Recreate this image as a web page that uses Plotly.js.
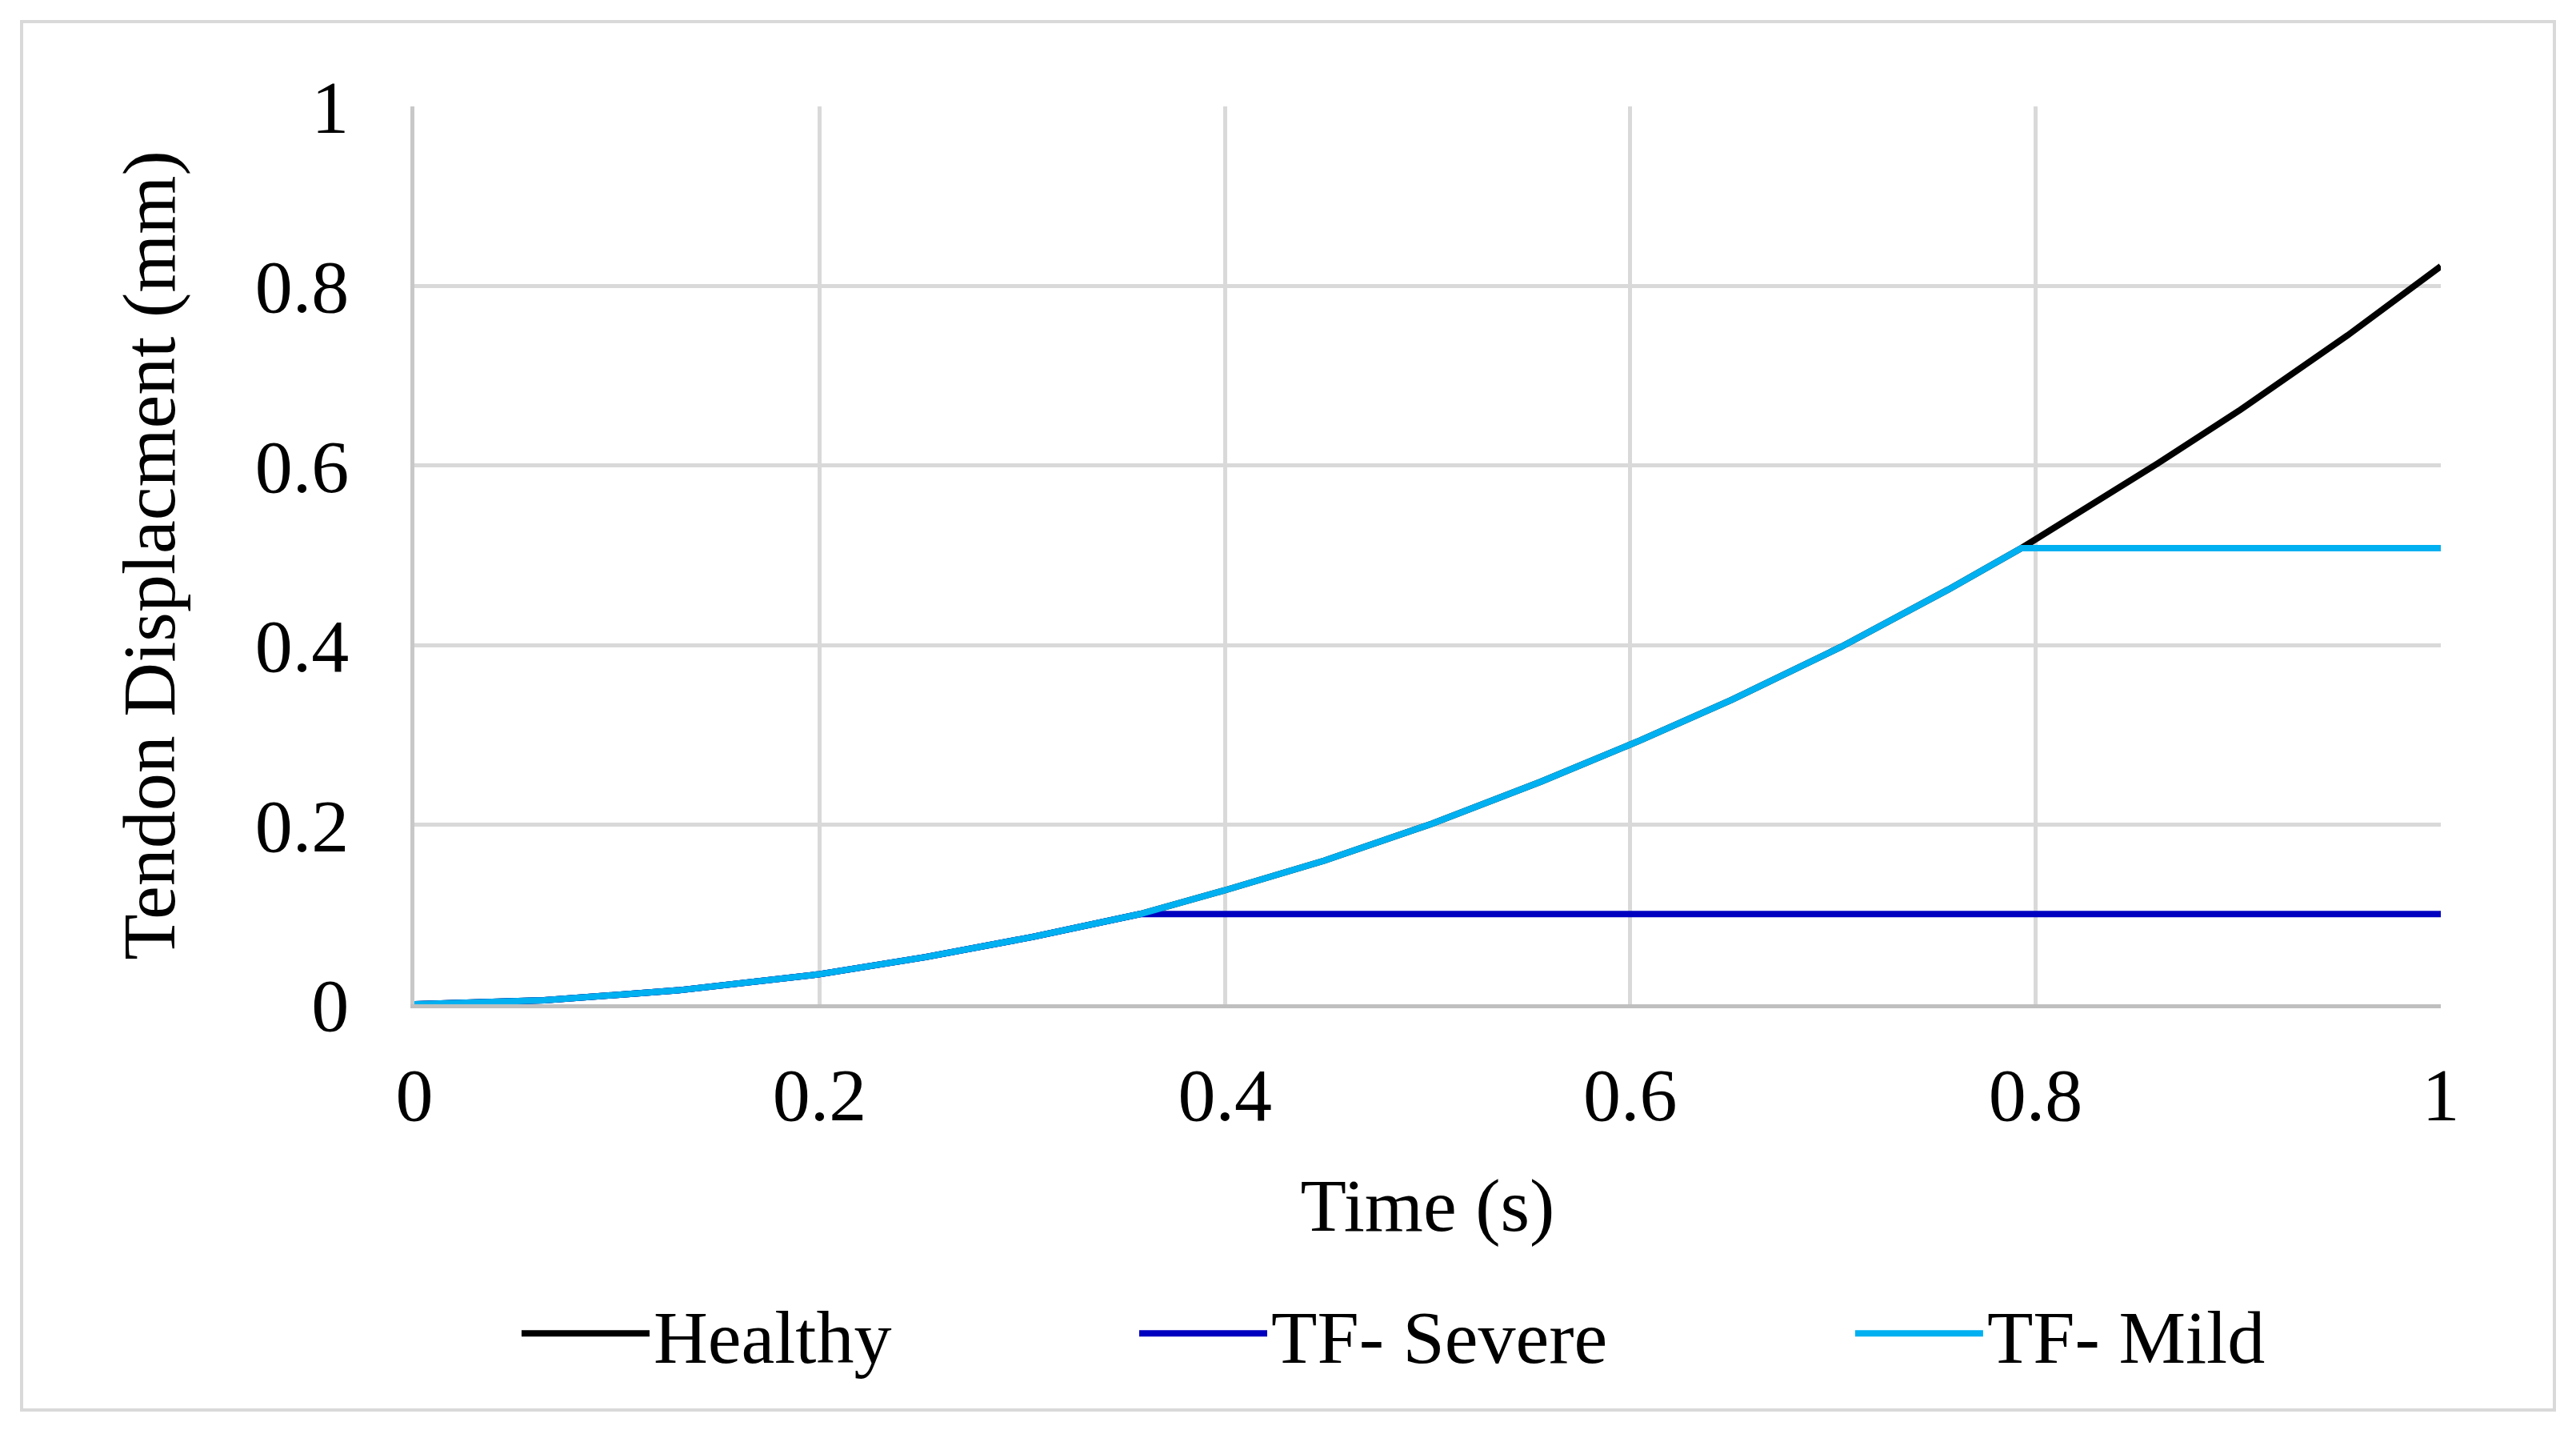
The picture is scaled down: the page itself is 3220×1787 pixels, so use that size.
<!DOCTYPE html>
<html>
<head>
<meta charset="utf-8">
<script src="https://cdn.plot.ly/plotly-3.0.1.min.js"></script>
<style>
  html, body { margin: 0; padding: 0; background: #ffffff; }
  #chart { width: 3220px; height: 1787px; }
</style>
</head>
<body>
<div id="chart"></div>
<script>
// Values
var timeHealthy = [0, 0.064, 0.13, 0.2, 0.252, 0.305, 0.358, 0.4, 0.449, 0.502, 0.556, 0.605, 0.65, 0.704, 0.757, 0.793, 0.86, 0.901, 0.954, 1.0];
var dispHealthy = [0, 0.0045, 0.0155, 0.0335, 0.0525, 0.075, 0.1005, 0.127, 0.16, 0.201, 0.248, 0.294, 0.339, 0.398, 0.462, 0.508, 0.602, 0.662, 0.745, 0.822];

var timeSevere = [0, 0.064, 0.13, 0.2, 0.252, 0.305, 0.358, 1.0];
var dispSevere = [0, 0.0045, 0.0155, 0.0335, 0.0525, 0.075, 0.1005, 0.1005];

var timeMild = [0, 0.064, 0.13, 0.2, 0.252, 0.305, 0.358, 0.4, 0.449, 0.502, 0.556, 0.605, 0.65, 0.704, 0.757, 0.793, 1.0];
var dispMild = [0, 0.0045, 0.0155, 0.0335, 0.0525, 0.075, 0.1005, 0.127, 0.16, 0.201, 0.248, 0.294, 0.339, 0.398, 0.462, 0.508, 0.508];

var seriesNames = ['Healthy', 'TF- Severe', 'TF- Mild'];
var xTickVals = [0, 0.2, 0.4, 0.6, 0.8, 1];
var yTickVals = [0, 0.2, 0.4, 0.6, 0.8, 1];

var FONT = 'Liberation Serif, Times New Roman, serif';
var FS = 94;

var traces = [
  { x: timeHealthy, y: dispHealthy, name: seriesNames[0], type: 'scatter', mode: 'lines',
    line: { color: '#000000', width: 8 }, legend: 'legend' },
  { x: timeSevere, y: dispSevere, name: seriesNames[1], type: 'scatter', mode: 'lines',
    line: { color: '#0000C0', width: 8 }, legend: 'legend2' },
  { x: timeMild, y: dispMild, name: seriesNames[2], type: 'scatter', mode: 'lines',
    line: { color: '#00B0F0', width: 8 }, legend: 'legend3' }
];

var legendCommon = {
  orientation: 'h', yanchor: 'middle', xanchor: 'left', y: -0.367,
  font: { family: FONT, size: FS, color: '#000000' },
  bgcolor: 'rgba(0,0,0,0)', borderwidth: 0, itemwidth: 160
};
function leg(xf) { var o = JSON.parse(JSON.stringify(legendCommon)); o.x = xf; return o; }

var layout = {
  width: 3220, height: 1787,
  margin: { l: 518, r: 169, t: 133, b: 532, pad: 0 },
  paper_bgcolor: '#ffffff', plot_bgcolor: '#ffffff',
  font: { family: FONT, size: FS, color: '#000000' },
  showlegend: true,
  legend: leg(0.0509),
  legend2: leg(0.3557),
  legend3: leg(0.7090),
  xaxis: {
    range: [0, 1], tickvals: xTickVals, ticks: '', showgrid: true,
    gridcolor: '#d9d9d9', gridwidth: 5, zeroline: false,
    showline: true, linecolor: '#bfbfbf', linewidth: 5,
    tickfont: { family: FONT, size: FS, color: '#000000' },
    ticklabelstandoff: 27,
    title: { text: 'Time (s)', font: { family: FONT, size: FS, color: '#000000' }, standoff: 55 },
    automargin: false, fixedrange: true
  },
  yaxis: {
    range: [0, 1], tickvals: yTickVals, ticks: '', showgrid: true,
    gridcolor: '#d9d9d9', gridwidth: 5, zeroline: false,
    showline: true, linecolor: '#c8c8c8', linewidth: 5,
    tickfont: { family: FONT, size: FS, color: '#000000' },
    ticklabelstandoff: 58,
    title: { text: 'Tendon Displacment (mm)', font: { family: FONT, size: FS, color: '#000000' }, standoff: 70 },
    automargin: false, fixedrange: true
  },
  shapes: [
    { type: 'rect', xref: 'paper', yref: 'paper', layer: 'below',
      x0: (27 - 518) / 2533, x1: (3193 - 518) / 2533,
      y0: (1255 - 1762) / 1122, y1: (1255 - 27) / 1122,
      line: { color: '#d9d9d9', width: 4 }, fillcolor: 'rgba(0,0,0,0)' }
  ]
};

Plotly.newPlot('chart', traces, layout, { displayModeBar: false, staticPlot: true });
</script>
</body>
</html>
